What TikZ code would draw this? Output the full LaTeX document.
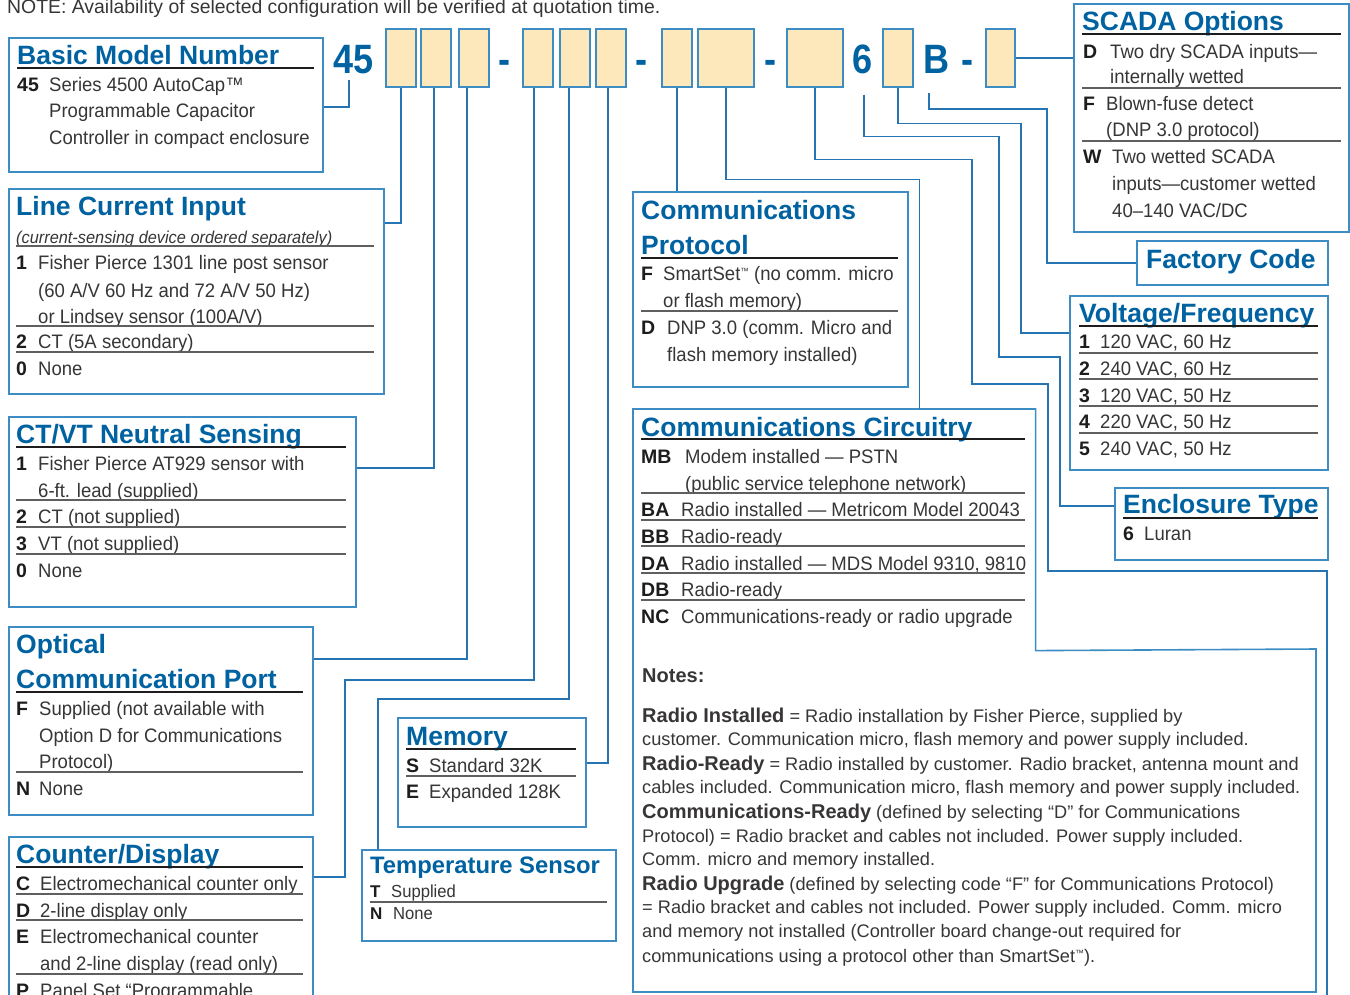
\documentclass[tikz,border=0pt]{standalone}
\usepackage{fontspec}
\setmainfont{Liberation Sans}
\newfontfamily\headfont{Liberation Sans}
\newfontfamily\bodyfont{Liberation Sans}[FakeStretch=0.95]
\newfontfamily\bigfont{Liberation Sans}[FakeStretch=0.88]

\definecolor{fpblue}{RGB}{0,98,160}
\definecolor{edgeblue}{RGB}{62,140,196}
\definecolor{wireblue}{RGB}{38,116,178}
\definecolor{slotfill}{RGB}{252,232,186}
\definecolor{inkdark}{RGB}{30,28,29}
\definecolor{inklight}{RGB}{55,53,54}
\definecolor{rulegray}{RGB}{95,95,95}

\newcommand\notehead[1]{{\headfont\bfseries\fontsize{20}{20}\selectfont #1}}
\newcommand\tinytm{\raisebox{6pt}{\fontsize{9}{9}\selectfont ™}}

\begin{document}
\begin{tikzpicture}[x=1pt,y=-1pt,
  panel/.style={draw=edgeblue,line width=1.6pt,fill=white,inner sep=0pt,anchor=north west},
  slot/.style={draw=edgeblue,line width=1.6pt,fill=slotfill,inner sep=0pt,anchor=north west,minimum width=30pt,minimum height=58pt},
  wire/.style={draw=wireblue,line width=1.6pt},
  ttl/.style={anchor=base west,inner sep=0pt,text=fpblue,font=\headfont\bfseries\fontsize{26.5}{27}\selectfont},
  code/.style={anchor=base west,inner sep=0pt,text=inkdark,font=\headfont\bfseries\fontsize{19.5}{20}\selectfont},
  item/.style={anchor=base west,inner sep=0pt,text=inklight,font=\bodyfont\fontsize{19.5}{20}\selectfont},
  note/.style={anchor=base west,inner sep=0pt,text=inklight,font=\headfont\fontsize{18.2}{19}\selectfont},
  big/.style={anchor=base west,inner sep=0pt,text=fpblue,font=\bigfont\bfseries\fontsize{41}{41}\selectfont},
  rule/.style={draw=rulegray,line width=1.1pt},
  hrule/.style={draw=inkdark,line width=1.2pt}]

\useasboundingbox (0,0) rectangle (1350,994);

\node[item,font=\headfont\fontsize{19.4}{20}\selectfont] (topnote) at (7,13) {NOTE: Availability of selected configuration will be verified at quotation time.};

% code slots
\foreach \n/\x/\w in {1/385/30,2/420/30,3/458/30,4/522/30,5/559/30,6/595/30,7/661/30,8/697/56,9/786/56,10/882/30,11/985/29}
  \node[slot,minimum width=\w pt] (s\n) at (\x,28) {};
\node[big] (n45) at (333,73) {45};
\node[big] (n6) at (852,73) {6};
\node[big] (nB) at (923,73) {B};
\foreach \k/\x in {1/505,2/642,3/770,4/967}
  \node[big,anchor=base] (dash\k) at (\x,73) {-};

% panels
\node[panel,minimum width=314pt,minimum height=134pt] (basic) at (8,37) {};
\node[panel,minimum width=375pt,minimum height=205pt] (lci) at (8,188) {};
\node[panel,minimum width=347pt,minimum height=190pt] (ctvt) at (8,416) {};
\node[panel,minimum width=304pt,minimum height=188pt] (optic) at (8,626) {};
\node[panel,minimum width=304pt,minimum height=180pt] (cntr) at (8,836) {};
\node[panel,minimum width=188pt,minimum height=109pt] (mem) at (397,717) {};
\node[panel,minimum width=254pt,minimum height=91pt] (temp) at (361,849) {};
\node[panel,minimum width=275pt,minimum height=195pt] (cproto) at (632,191) {};
\node[panel,draw=none,minimum width=401pt,minimum height=240pt] (ccirc) at (633,409) {};
\draw[edgeblue,line width=1.6pt] (ccirc.north west) -- (ccirc.north east) -- (ccirc.south east) -- (1316,649) -- (1316,992) -- (633,992) -- cycle;
\node[panel,minimum width=275pt,minimum height=228pt] (scada) at (1073,3) {};
\node[panel,minimum width=191pt,minimum height=44pt] (fcode) at (1136,240) {};
\node[panel,minimum width=258pt,minimum height=174pt] (volt) at (1069,295) {};
\node[panel,minimum width=213pt,minimum height=72pt] (encl) at (1114,487) {};

% connectors
\coordinate (offpage) at (1327,1000);
\draw[wire] ([xshift=-4pt,yshift=-6pt]n45.south) |- ([yshift=-70pt]basic.north east);
\draw[wire] (s1.south) |- ([yshift=-35pt]lci.north east);
\draw[wire] ([xshift=-2pt]s2.south) |- ([yshift=-52pt]ctvt.north east);
\draw[wire] ([xshift=-7pt]s3.south) |- ([yshift=-33pt]optic.north east);
\draw[wire] ([xshift=-4pt]s4.south) |- (345,680) |- ([yshift=-41pt]cntr.north east);
\draw[wire] ([xshift=-6pt]s5.south) |- (378,699) -- ([xshift=17pt]temp.north west);
\draw[wire] ([xshift=-3pt]s6.south) |- ([yshift=-46pt]mem.north east);
\draw[wire] (s7.south) -- (s7.south |- cproto.north);
\draw[wire] (s8.south) -- ++(0,92) -| ([xshift=-116pt]ccirc.north east);
\draw[wire] (s9.south) -- ++(0,72) -| (972,384) -| (1048,571) -| (offpage);
\draw[wire] ([xshift=2pt,yshift=-21pt]n6.south) -- ++(0,42) -| (999,357) -| (1060,506) -- ([yshift=-19pt]encl.north west);
\draw[wire] (s10.south) -- ++(0,36) -| (1021,333) -- ([yshift=-38pt]volt.north west);
\draw[wire] ([xshift=-7pt,yshift=-20pt]nB.south) -- ++(0,16) -| (1047,263) -- ([yshift=-23pt]fcode.north west);
\draw[wire] (s11.east) -- (s11.east -| scada.west);

% basic model number
\node[ttl] (basic-t) at (17,64) {Basic Model Number};
\draw[hrule] (17,68) -- (314,68);
\node[code] (basic-c) at (17,91) {45};
\foreach \k/\y/\t in {1/91/{Series 4500 AutoCap™},2/117/{Programmable Capacitor},3/144/{Controller in compact enclosure}}
  \node[item] (basic-\k) at (49,\y) {\t};

% line current input
\node[ttl] (lci-t) at (16,215) {Line Current Input};
\node[item,font=\bodyfont\itshape\fontsize{17.2}{18}\selectfont] (lci-s) at (16,243) {(current-sensing device ordered separately)};
\foreach \y/\c in {269/1,348/2,375/0}
  \node[code] (lci-c\c) at (16,\y) {\c};
\foreach \k/\y/\t in {1/269/{Fisher Pierce 1301 line post sensor},2/297/{(60 A/V 60 Hz and 72 A/V 50 Hz)},3/323/{or Lindsey sensor (100A/V)},4/348/{CT (5A secondary)},5/375/{None}}
  \node[item] (lci-\k) at (38,\y) {\t};
\foreach \y in {246,326,352}
  \draw[rule] (16,\y) -- (374,\y);

% ct/vt neutral sensing
\node[ttl] (ctvt-t) at (16,443) {CT/VT Neutral Sensing};
\draw[hrule] (16,447) -- (346,447);
\foreach \y/\c in {470/1,523/2,550/3,577/0}
  \node[code] (ctvt-c\c) at (16,\y) {\c};
\foreach \k/\y/\t in {1/470/{Fisher Pierce AT929 sensor with},2/497/{6-ft. lead (supplied)},3/523/{CT (not supplied)},4/550/{VT (not supplied)},5/577/{None}}
  \node[item] (ctvt-\k) at (38,\y) {\t};
\foreach \y in {500,527,554}
  \draw[rule] (16,\y) -- (346,\y);

% optical port
\node[ttl] (optic-t1) at (16,653) {Optical};
\node[ttl] (optic-t2) at (16,688) {Communication Port};
\draw[hrule] (16,692) -- (303,692);
\node[code] (optic-cF) at (16,715) {F};
\node[code] (optic-cN) at (16,795) {N};
\foreach \k/\y/\t in {1/715/{Supplied (not available with},2/742/{Option D for Communications},3/768/{Protocol)},4/795/{None}}
  \node[item] (optic-\k) at (39,\y) {\t};
\draw[rule] (16,772) -- (303,772);

% counter/display
\node[ttl] (cntr-t) at (16,863) {Counter/Display};
\draw[hrule] (16,867) -- (303,867);
\foreach \y/\c in {890/C,917/D,943/E,997/P}
  \node[code] (cntr-c\c) at (16,\y) {\c};
\foreach \k/\y/\t in {1/890/{Electromechanical counter only},2/917/{2-line display only},3/943/{Electromechanical counter},4/970/{and 2-line display (read only)},5/997/{Panel Set “Programmable}}
  \node[item] (cntr-\k) at (40,\y) {\t};
\foreach \y in {894,920,974}
  \draw[rule] (16,\y) -- (303,\y);

% memory
\node[ttl] (mem-t) at (406,745) {Memory};
\draw[hrule] (406,749) -- (576,749);
\node[code] (mem-cS) at (406,772) {S};
\node[code] (mem-cE) at (406,798) {E};
\node[item] (mem-1) at (429,772) {Standard 32K};
\node[item] (mem-2) at (429,798) {Expanded 128K};
\draw[rule] (406,776) -- (576,776);

% temperature sensor
\node[ttl,font=\headfont\bfseries\fontsize{23.8}{24}\selectfont] (temp-t) at (370,873) {Temperature Sensor};
\node[code,font=\headfont\bfseries\fontsize{17}{18}\selectfont] (temp-cT) at (370,897) {T};
\node[code,font=\headfont\bfseries\fontsize{17}{18}\selectfont] (temp-cN) at (370,919) {N};
\node[item,font=\bodyfont\fontsize{17.5}{18}\selectfont] (temp-1) at (391,897) {Supplied};
\node[item,font=\bodyfont\fontsize{17.5}{18}\selectfont] (temp-2) at (393,919) {None};
\draw[rule] (370,902) -- (607,902);

% communications protocol
\node[ttl] (cproto-t1) at (641,219) {Communications};
\node[ttl] (cproto-t2) at (641,254) {Protocol};
\draw[hrule] (641,258) -- (898,258);
\node[code] (cproto-cF) at (641,280) {F};
\node[code] (cproto-cD) at (641,334) {D};
\node[item] (cproto-1) at (663,280) {SmartSet\tinytm\ (no comm. micro};
\node[item] (cproto-2) at (663,307) {or flash memory)};
\node[item] (cproto-3) at (667,334) {DNP 3.0 (comm. Micro and};
\node[item] (cproto-4) at (667,361) {flash memory installed)};
\draw[rule] (641,311) -- (898,311);

% communications circuitry
\node[ttl] (ccirc-t) at (641,436) {Communications Circuitry};
\draw[hrule] (641,439) -- (1025,439);
\foreach \y/\c in {463/MB,516/BA,543/BB,570/DA,596/DB,623/NC}
  \node[code] (ccirc-c\c) at (641,\y) {\c};
\node[item] (ccirc-1) at (685,463) {Modem installed — PSTN};
\node[item] (ccirc-2) at (685,490) {(public service telephone network)};
\foreach \k/\y/\t in {3/516/{Radio installed — Metricom Model 20043},4/543/{Radio-ready},5/570/{Radio installed — MDS Model 9310, 9810},6/596/{Radio-ready},7/623/{Communications-ready or radio upgrade}}
  \node[item] (ccirc-\k) at (681,\y) {\t};
\foreach \y in {493,520,546,573,600}
  \draw[rule] (641,\y) -- (1025,\y);

% notes
\node[note,font=\headfont\bfseries\fontsize{20}{20}\selectfont] (notes-t) at (642,682) {Notes:};
\foreach \k/\y/\t in {
  1/722/{\notehead{Radio Installed} = Radio installation by Fisher Pierce, supplied by},
  2/745/{customer. Communication micro, flash memory and power supply included.},
  3/770/{\notehead{Radio-Ready} = Radio installed by customer. Radio bracket, antenna mount and},
  4/793/{cables included. Communication micro, flash memory and power supply included.},
  5/818/{\notehead{Communications-Ready} (defined by selecting “D” for Communications},
  6/842/{Protocol) = Radio bracket and cables not included. Power supply included.},
  7/865/{Comm. micro and memory installed.},
  8/890/{\notehead{Radio Upgrade} (defined by selecting code “F” for Communications Protocol)},
  9/913/{= Radio bracket and cables not included. Power supply included. Comm. micro},
  10/937/{and memory not installed (Controller board change-out required for},
  11/962/{communications using a protocol other than SmartSet\tinytm).}}
  \node[note] (notes-\k) at (642,\y) {\t};

% scada options
\node[ttl] (scada-t) at (1082,30) {SCADA Options};
\draw[hrule] (1082,34) -- (1341,34);
\node[code] (scada-cD) at (1083,58) {D};
\node[code] (scada-cF) at (1083,110) {F};
\node[code] (scada-cW) at (1083,163) {W};
\foreach \k/\x/\y/\t in {1/1110/58/{Two dry SCADA inputs—},2/1110/83/{internally wetted},3/1106/110/{Blown-fuse detect},4/1106/136/{(DNP 3.0 protocol)},5/1112/163/{Two wetted SCADA},6/1112/190/{inputs—customer wetted},7/1112/217/{40–140 VAC/DC}}
  \node[item] (scada-\k) at (\x,\y) {\t};
\foreach \y in {88,141}
  \draw[rule] (1082,\y) -- (1341,\y);

% factory code
\node[ttl] (fcode-t) at (1146,268) {Factory Code};

% voltage/frequency
\node[ttl] (volt-t) at (1079,322) {Voltage/Frequency};
\draw[hrule] (1079,326) -- (1318,326);
\foreach \c/\y/\t in {1/348/{120 VAC, 60 Hz},2/375/{240 VAC, 60 Hz},3/402/{120 VAC, 50 Hz},4/428/{220 VAC, 50 Hz},5/455/{240 VAC, 50 Hz}}{
  \node[code] (volt-c\c) at (1079,\y) {\c};
  \node[item] (volt-\c) at (1100,\y) {\t};
}
\foreach \y in {353,379,406,433}
  \draw[rule] (1079,\y) -- (1318,\y);

% enclosure type
\node[ttl] (encl-t) at (1123,513) {Enclosure Type};
\draw[hrule] (1123,518) -- (1318,518);
\node[code] (encl-c6) at (1123,540) {6};
\node[item] (encl-1) at (1144,540) {Luran};

\end{tikzpicture}
\end{document}
